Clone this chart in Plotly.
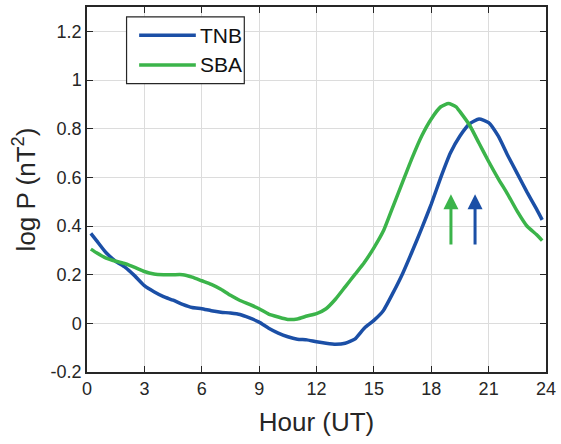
import plotly.graph_objects as go

hours_tnb = [0.2, 0.5, 1.0, 1.5, 2.0, 2.5, 3.0, 3.5, 4.0, 4.5, 5.0, 5.5, 6.0, 6.5, 7.0, 7.5, 8.0, 8.5,
             9.0, 9.5, 10.0, 10.5, 11.0, 11.5, 12.0, 12.5, 13.0, 13.5, 14.0, 14.5, 15.0, 15.5, 16.0,
             16.5, 17.0, 17.5, 18.0, 18.5, 19.0, 19.5, 20.0, 20.5, 21.0, 21.5, 22.0, 22.5, 23.0, 23.5, 23.8]
tnb = [0.37, 0.34, 0.29, 0.255, 0.23, 0.195, 0.155, 0.13, 0.11, 0.095, 0.078, 0.065, 0.06, 0.052,
       0.046, 0.042, 0.036, 0.022, 0.005, -0.02, -0.04, -0.055, -0.065, -0.068, -0.076, -0.082,
       -0.086, -0.082, -0.065, -0.02, 0.012, 0.053, 0.125, 0.204, 0.295, 0.39, 0.49, 0.6, 0.7,
       0.77, 0.82, 0.84, 0.825, 0.77, 0.69, 0.615, 0.54, 0.47, 0.425]

hours_sba = [0.2, 0.5, 1.0, 1.5, 2.0, 2.5, 3.0, 3.5, 4.0, 4.5, 5.0, 5.5, 6.0, 6.5, 7.0, 7.5, 8.0, 8.5,
             9.0, 9.5, 10.0, 10.5, 11.0, 11.5, 12.0, 12.5, 13.0, 13.5, 14.0, 14.5, 15.0, 15.5, 16.0,
             16.5, 17.0, 17.5, 18.0, 18.5, 18.9, 19.3, 19.5, 20.0, 20.5, 21.0, 21.5, 22.0, 22.5, 23.0,
             23.5, 23.8]
sba = [0.305, 0.29, 0.268, 0.255, 0.245, 0.23, 0.213, 0.203, 0.2, 0.2, 0.2, 0.19, 0.175, 0.16, 0.14,
       0.115, 0.094, 0.078, 0.06, 0.038, 0.026, 0.016, 0.018, 0.03, 0.04, 0.06, 0.1, 0.15, 0.2, 0.25,
       0.31, 0.38, 0.48, 0.58, 0.68, 0.77, 0.84, 0.89, 0.903, 0.89, 0.87, 0.815, 0.74, 0.665, 0.595,
       0.53, 0.46, 0.4, 0.365, 0.34]

series_names = ["TNB", "SBA"]

arrow_hours = [19.03, 20.29]
arrow_base = [0.318, 0.318]
arrow_tip = [0.53, 0.53]

x_ticks = [0, 3, 6, 9, 12, 15, 18, 21, 24]
y_ticks = [-0.2, 0, 0.2, 0.4, 0.6, 0.8, 1.0, 1.2]
y_ticklabels = ["-0.2", "0", "0.2", "0.4", "0.6", "0.8", "1", "1.2"]

BLUE = "#1b4fa6"
GREEN = "#3bb44a"
DARK = "#262626"
FONT = "Liberation Sans, Arial, sans-serif"

fig = go.Figure()
fig.add_trace(go.Scatter(x=hours_tnb, y=tnb, mode="lines", name=series_names[0],
                         line=dict(color=BLUE, width=3.5, shape="spline", smoothing=0.5)))
fig.add_trace(go.Scatter(x=hours_sba, y=sba, mode="lines", name=series_names[1],
                         line=dict(color=GREEN, width=3.5, shape="spline", smoothing=0.5)))

for hx, yb, yt, col in zip(arrow_hours, arrow_base, arrow_tip, [GREEN, BLUE]):
    fig.add_annotation(x=hx, y=yt, ax=hx, ay=yb, xref="x", yref="y", axref="x", ayref="y",
                       text="", showarrow=True, arrowhead=2, arrowsize=1.0, arrowwidth=3,
                       arrowcolor=col, standoff=0)

# manual legend (box, line samples, labels) in paper coordinates
fig.add_shape(type="rect", xref="paper", yref="paper", x0=0.0862, x1=0.3427, y0=0.7902, y1=0.9728,
              line=dict(color=DARK, width=1.2), fillcolor="white", layer="above")
for name, col, ly in zip(series_names, [BLUE, GREEN], [0.9229, 0.8411]):
    fig.add_shape(type="line", xref="paper", yref="paper", x0=0.1136, x1=0.2371, y0=ly, y1=ly,
                  line=dict(color=col, width=3.5), layer="above")
    fig.add_annotation(x=0.2429, y=ly, xref="paper", yref="paper", text=name, showarrow=False,
                       xanchor="left", yanchor="middle",
                       font=dict(family=FONT, size=21, color="#111111"))

axis_common = dict(
    showline=True, linecolor=DARK, linewidth=1.5, mirror="ticks",
    ticks="inside", ticklen=6, tickwidth=1.2, tickcolor=DARK,
    showgrid=True, gridcolor="#dcdcdc", gridwidth=1, zeroline=False,
    tickfont=dict(family=FONT, size=18, color=DARK),
)

fig.update_xaxes(range=[0, 24], tickvals=x_ticks, ticklabeloverflow="allow",
                 title=dict(text="Hour (UT)", font=dict(family=FONT, size=26, color=DARK),
                            standoff=14),
                 **axis_common)
fig.update_yaxes(range=[-0.2, 1.3], tickvals=y_ticks, ticktext=y_ticklabels,
                 title=dict(text="log P (nT<sup>2</sup>)", font=dict(family=FONT, size=26, color=DARK),
                            standoff=8),
                 **axis_common)

fig.update_layout(
    width=561, height=444,
    margin=dict(l=87, r=10, t=5, b=72),
    paper_bgcolor="white", plot_bgcolor="white",
    showlegend=False,
)

fig.write_html("out.html")
